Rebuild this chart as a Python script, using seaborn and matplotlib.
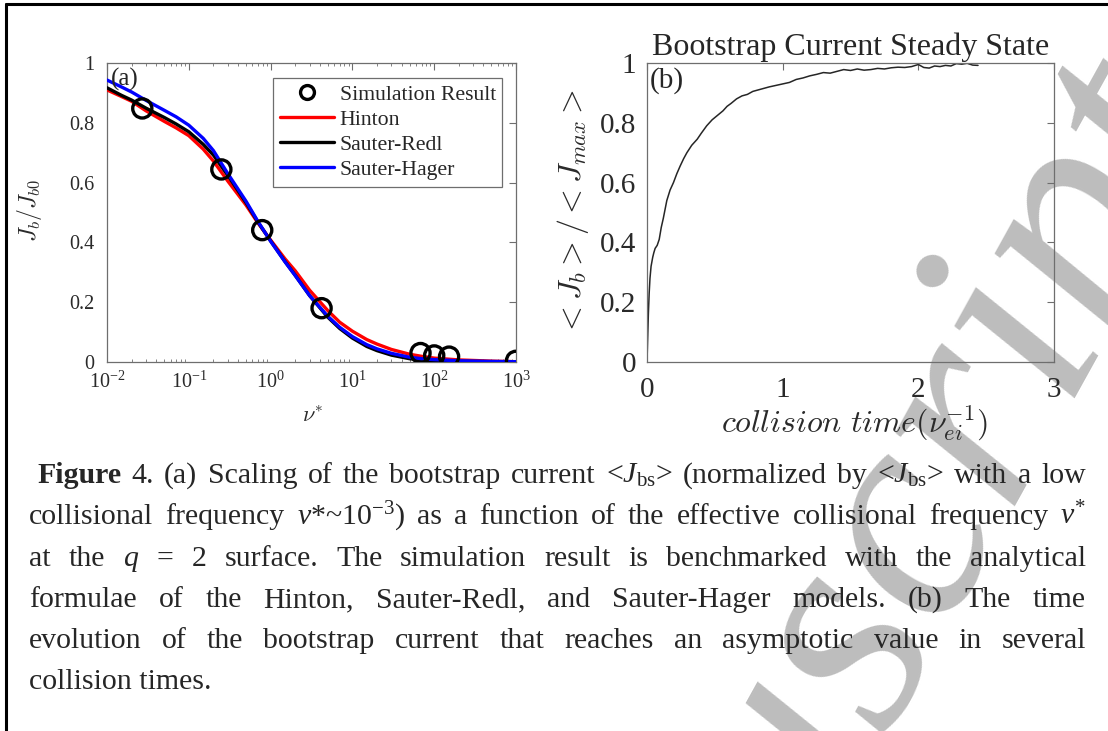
import numpy as np
import pandas as pd
import matplotlib
matplotlib.use("Agg")
import matplotlib.pyplot as plt
import seaborn as sns
from matplotlib.lines import Line2D
from matplotlib.ticker import LogLocator, NullFormatter, FixedLocator

W, H, DPI = 1108, 731, 100

# ---- (a) bootstrap current vs effective collisionality ----
nu_sim = [0.027, 0.25, 0.79, 4.2, 68, 100, 152, 1000]
jb_sim = [0.848, 0.644, 0.441, 0.18, 0.03, 0.022, 0.018, 0.004]

nu_model = [0.01, 0.015, 0.02, 0.03, 0.05, 0.07, 0.1, 0.15, 0.2, 0.3, 0.5,
            0.7, 1, 1.5, 2, 3, 5, 7, 10, 15, 20, 30, 50, 70, 100, 200,
            500, 1000]
hinton = [0.910, 0.888, 0.872, 0.840, 0.805, 0.783, 0.757, 0.712, 0.672,
          0.605, 0.525, 0.465, 0.408, 0.345, 0.305, 0.240, 0.172, 0.133,
          0.103, 0.075, 0.060, 0.042, 0.026, 0.019, 0.013, 0.007, 0.003,
          0.001]
sauter_redl = [0.917, 0.892, 0.876, 0.849, 0.818, 0.796, 0.770, 0.728,
               0.692, 0.624, 0.533, 0.468, 0.405, 0.336, 0.290, 0.222,
               0.150, 0.112, 0.080, 0.052, 0.038, 0.023, 0.011, 0.007,
               0.004, 0.002, 0.001, 0.0]
sauter_hager = [0.943, 0.920, 0.903, 0.875, 0.842, 0.820, 0.792, 0.748,
                0.707, 0.630, 0.538, 0.470, 0.404, 0.335, 0.289, 0.222,
                0.153, 0.116, 0.085, 0.058, 0.044, 0.029, 0.016, 0.011,
                0.008, 0.004, 0.002, 0.001]
model_names = ["Hinton", "Sauter-Redl", "Sauter-Hager"]
model_colors = ["#ff0000", "#000000", "#0000ff"]

nu_ticks = [1e-2, 1e-1, 1e0, 1e1, 1e2, 1e3]
nu_ticklabels = [r"$10^{-2}$", r"$10^{-1}$", r"$10^{0}$", r"$10^{1}$",
                 r"$10^{2}$", r"$10^{3}$"]
j_ticks = [0, 0.2, 0.4, 0.6, 0.8, 1]
j_ticklabels = ["0", "0.2", "0.4", "0.6", "0.8", "1"]

# ---- (b) time evolution of the normalised bootstrap current ----
t_coll = [0, 0.005, 0.01, 0.016, 0.022, 0.03, 0.042, 0.05, 0.06, 0.075,
          0.09, 0.105, 0.12, 0.146, 0.17, 0.195, 0.22, 0.244, 0.27, 0.294,
          0.33, 0.37, 0.40, 0.44, 0.48, 0.52, 0.56, 0.59, 0.62, 0.66, 0.70,
          0.74, 0.78, 0.82, 0.86, 0.90, 0.95, 1.0, 1.05, 1.10, 1.15, 1.20,
          1.25, 1.30, 1.35, 1.40, 1.45, 1.50, 1.55, 1.60, 1.65, 1.70, 1.75,
          1.80, 1.85, 1.90, 1.95, 2.0, 2.04, 2.08, 2.12, 2.16, 2.2, 2.24,
          2.28, 2.32, 2.36, 2.40, 2.44]
jb_ratio = [0, 0.08, 0.16, 0.23, 0.28, 0.32, 0.35, 0.365, 0.38, 0.39,
            0.41, 0.45, 0.48, 0.54, 0.575, 0.60, 0.63, 0.655, 0.68, 0.70,
            0.725, 0.745, 0.765, 0.79, 0.81, 0.825, 0.84, 0.855, 0.865,
            0.88, 0.89, 0.895, 0.905, 0.91, 0.915, 0.92, 0.925, 0.93, 0.935,
            0.945, 0.95, 0.957, 0.962, 0.968, 0.966, 0.972, 0.978, 0.975,
            0.98, 0.976, 0.978, 0.982, 0.98, 0.984, 0.986, 0.985, 0.988,
            0.995, 0.985, 0.983, 0.99, 0.988, 0.992, 0.99, 0.998, 0.996,
            0.999, 0.993, 0.992]
t_ticks = [0, 1, 2, 3]

# ---- caption ----
caption_lines = [
    [(r"Figure", "bold"), ("4.", "normal"), ("(a)", "normal"), ("Scaling", "normal"),
     ("of", "normal"), ("the", "normal"), ("bootstrap", "normal"), ("current", "normal"),
     (r"<$J_{\mathrm{bs}}$>", "normal"), ("(normalized", "normal"), ("by", "normal"),
     (r"<$J_{\mathrm{bs}}$>", "normal"), ("with", "normal"), ("a", "normal"), ("low", "normal")],
    [("collisional", "normal"), ("frequency", "normal"), (r"$v$*~$10^{-3}$)", "normal"),
     ("as", "normal"), ("a", "normal"), ("function", "normal"), ("of", "normal"),
     ("the", "normal"), ("effective", "normal"), ("collisional", "normal"),
     ("frequency", "normal"), (r"$v^{*}$", "normal")],
    [("at", "normal"), ("the", "normal"), (r"$q$", "normal"), ("=", "normal"),
     ("2", "normal"), ("surface.", "normal"), ("The", "normal"), ("simulation", "normal"),
     ("result", "normal"), ("is", "normal"), ("benchmarked", "normal"), ("with", "normal"),
     ("the", "normal"), ("analytical", "normal")],
    [("formulae", "normal"), ("of", "normal"), ("the", "normal"), ("Hinton,", "normal"),
     ("Sauter-Redl,", "normal"), ("and", "normal"), ("Sauter-Hager", "normal"),
     ("models.", "normal"), ("(b)", "normal"), ("The", "normal"), ("time", "normal")],
    [("evolution", "normal"), ("of", "normal"), ("the", "normal"), ("bootstrap", "normal"),
     ("current", "normal"), ("that", "normal"), ("reaches", "normal"), ("an", "normal"),
     ("asymptotic", "normal"), ("value", "normal"), ("in", "normal"), ("several", "normal")],
    [("collision times.", "normal")],
]

# ---------------------------------------------------------------------------
sns.set_theme(style="white")
plt.rcParams["font.family"] = ["Liberation Serif", "DejaVu Serif"]
plt.rcParams["mathtext.fontset"] = "custom"
plt.rcParams["mathtext.rm"] = "Liberation Serif"
plt.rcParams["mathtext.it"] = "Liberation Serif:italic"
plt.rcParams["mathtext.bf"] = "Liberation Serif:bold"

fig = plt.figure(figsize=(W / DPI, H / DPI), dpi=DPI)
fig.patch.set_facecolor("white")


def px_axes(left, top, right, bottom):
    return fig.add_axes([left / W, 1 - bottom / H, (right - left) / W, (bottom - top) / H])


def ftext(x, y, s, **kw):
    return fig.text(x / W, 1 - y / H, s, **kw)


SPINE = "#6e6e6e"
TICKC = "#2a2a2a"

# ---------------- panel (a) ----------------
axA = px_axes(107, 63, 516, 362)
axA.set_facecolor("none")
models = pd.DataFrame({
    "nu": nu_model * 3,
    "J": hinton + sauter_redl + sauter_hager,
    "model": [n for n in model_names for _ in nu_model],
})
sns.lineplot(data=models, x="nu", y="J", hue="model", hue_order=model_names,
             palette=dict(zip(model_names, model_colors)), linewidth=2.4,
             sort=False, legend=False, ax=axA, zorder=3)
sns.scatterplot(x=nu_sim, y=jb_sim, marker="o", s=190, facecolors="none",
                edgecolor="black", linewidth=2.4, ax=axA, zorder=4, legend=False)
axA.set_xscale("log")
axA.set_xlim(1e-2, 1e3)
axA.set_ylim(0, 1)
axA.xaxis.set_major_locator(FixedLocator(nu_ticks))
axA.set_xticklabels(nu_ticklabels)
axA.xaxis.set_minor_locator(LogLocator(base=10, subs=np.arange(2, 10)))
axA.xaxis.set_minor_formatter(NullFormatter())
axA.set_yticks(j_ticks)
axA.set_yticklabels(j_ticklabels)
axA.set_xlabel("")
axA.set_ylabel("")
axA.tick_params(axis="both", which="major", direction="in", length=5, width=0.8,
                top=True, right=True, labelsize=14.5, colors=SPINE, labelcolor=TICKC)
axA.tick_params(axis="x", which="major", pad=7)
axA.tick_params(axis="y", which="major", pad=9)
axA.tick_params(axis="x", which="minor", direction="in", length=2.5, width=0.6,
                top=True, bottom=True, colors=SPINE)
for sp in axA.spines.values():
    sp.set_color(SPINE)
    sp.set_linewidth(0.9)

handles = [Line2D([], [], marker="o", ls="", mfc="none", mec="black", mew=2.4, ms=10)]
handles += [Line2D([], [], color=c, lw=2.4) for c in model_colors]
leg = axA.legend(handles, ["Simulation Result"] + model_names, loc="upper left",
                 bbox_to_anchor=((273 - 107) / 409, 1 - (78 - 63) / 299),
                 fontsize=15.7, frameon=True, fancybox=False, framealpha=1,
                 edgecolor=SPINE, borderpad=0.3, labelspacing=0.22,
                 handlelength=2.5, handletextpad=0.25, borderaxespad=0)
leg.get_frame().set_linewidth(0.9)
axA.text(0.01, 0.985, "(a)", transform=axA.transAxes, fontsize=18, va="top", ha="left")

ftext(30, 210, r"$J_b/J_{b0}$", rotation=90, ha="center", va="center",
      fontsize=17, math_fontfamily="cm", color=TICKC)
ftext(313, 417, r"$\nu^{*}$", ha="center", va="center", fontsize=16,
      math_fontfamily="cm", color=TICKC)

# ---------------- panel (b) ----------------
axB = px_axes(647, 63, 1054, 362)
axB.set_facecolor("none")
sns.lineplot(x=t_coll, y=jb_ratio, color="#262626", linewidth=1.1, ax=axB, sort=False)
axB.set_xlim(0, 3)
axB.set_ylim(0, 1)
axB.set_xticks(t_ticks)
axB.set_xticklabels([str(v) for v in t_ticks])
axB.set_yticks(j_ticks)
axB.set_yticklabels(j_ticklabels)
axB.tick_params(axis="both", which="major", direction="in", length=5, width=0.8,
                top=True, right=True, labelsize=21, colors=SPINE, labelcolor=TICKC)
axB.tick_params(axis="x", which="major", pad=11)
axB.tick_params(axis="y", which="major", pad=8)
for sp in axB.spines.values():
    sp.set_color(SPINE)
    sp.set_linewidth(0.9)
axB.text(0.006, 0.985, "(b)", transform=axB.transAxes, fontsize=21, va="top", ha="left")

ftext(851, 55, "Bootstrap Current Steady State", ha="center", va="baseline", fontsize=23)
ftext(573, 212, r"$<J_b>/<J_{max}>$", rotation=90, ha="center", va="center",
      fontsize=23, math_fontfamily="cm", color=TICKC)
ftext(854, 423, r"$collision\ time(\nu_{ei}^{-1})$", ha="center", va="center",
      fontsize=23, math_fontfamily="cm", color=TICKC)

# ---------------- caption (justified) ----------------
CAP_FS = 21.5
renderer = fig.canvas.get_renderer()
baselines = [483, 524.5, 566, 607, 648, 689]
left_edges = [37, 29, 29, 29, 29, 29]
RIGHT = 1086
for toks, yb, x0 in zip(caption_lines, baselines, left_edges):
    arts = [ftext(0, yb, s, fontsize=CAP_FS, fontweight=wt, ha="left", va="baseline")
            for s, wt in toks]
    widths = [a.get_window_extent(renderer).width for a in arts]
    if len(arts) > 1:
        gap = (RIGHT - x0 - sum(widths)) / (len(arts) - 1)
    else:
        gap = 0
    x = x0
    for a, w in zip(arts, widths):
        a.set_x(x / W)
        x += w + gap

# ---------------- frame and watermark ----------------
fig.add_artist(Line2D([6 / W, 1], [1 - 4 / H, 1 - 4 / H], transform=fig.transFigure,
                      color="black", lw=2.2))
fig.add_artist(Line2D([6 / W, 6 / W], [0, 1 - 4 / H], transform=fig.transFigure,
                      color="black", lw=2.2))
ftext(601, 1284, "Accepted Manuscript", rotation=61, rotation_mode="anchor",
      ha="center", va="baseline", fontsize=220, fontstyle="italic",
      color="#bdbdbd", zorder=-10)

fig.savefig("out.png", dpi=DPI, facecolor="white")
